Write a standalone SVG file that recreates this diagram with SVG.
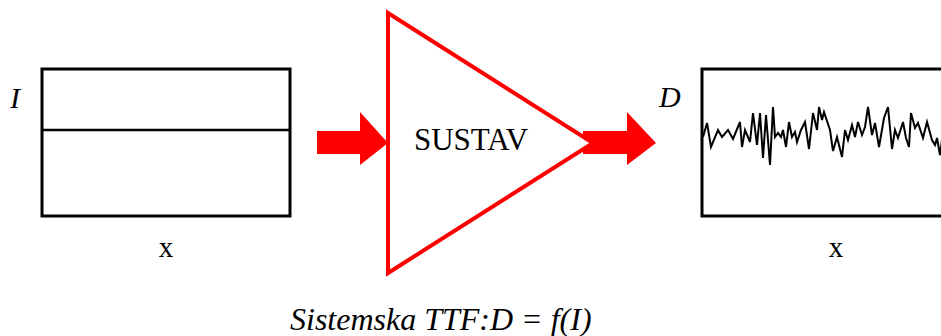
<svg xmlns="http://www.w3.org/2000/svg" width="941" height="336" viewBox="0 0 941 336">
<style>
.box{fill:#fff;stroke:#000;stroke-width:3}
.lbl{font-family:"Liberation Serif",serif;fill:#000}
.it{font-style:italic}
.tri{fill:#fff;stroke:#f00;stroke-width:4;stroke-linejoin:miter}
.arr{fill:#f00;stroke:none}
</style>
<rect width="941" height="336" fill="#fff"/>
<g id="input">
<rect class="box" x="42" y="69" width="248" height="147"/>
<line x1="42" y1="130" x2="290" y2="130" stroke="#000" stroke-width="2.5"/>
<text class="lbl it" x="10" y="108" font-size="30">I</text>
<text class="lbl" x="166" y="257" font-size="29" text-anchor="middle">x</text>
</g>
<g id="connectors">
<polygon class="arr" points="317,131 360,131 360,112 388,143 360,165 360,154 317,154"/>
<polygon class="arr" points="583,131 627,131 627,112 656,143 627,165 627,154 583,154"/>
</g>
<g id="system">
<polygon class="tri" points="388,13 593,143 388,273"/>
<text class="lbl" x="471" y="150" font-size="31" text-anchor="middle">SUSTAV</text>
</g>
<g id="output">
<rect class="box" x="702" y="69" width="250" height="147"/>
<text class="lbl it" x="659" y="107" font-size="30">D</text>
<text class="lbl" x="836" y="257" font-size="29" text-anchor="middle">x</text>
<polyline fill="none" stroke="#000" stroke-width="2" stroke-linejoin="miter" points="703,137 707,123 711,147 718,130 722,137 728,130 733,139 740,122 742,147 745,130 750,142 753,113 757,145 760,113 763,158 766,115 770,165 773,107 775,137 778,133 781,137 783,130 786,147 789,122 792,137 795,132 797,142 801,130 805,122 809,149 813,113 817,130 819,107 822,120 824,112 830,130 833,151 837,137 842,157 845,130 848,140 852,125 855,137 858,122 862,135 865,127 868,107 872,135 875,123 879,147 884,118 888,107 892,149 895,130 898,138 903,122 906,138 909,147 911,113 915,128 918,123 923,138 927,122 932,140 935,145 937,138 940,155 942,140"/>
</g>
<text class="lbl it" x="290" y="330" font-size="32">Sistemska TTF:D = f(I)</text>
</svg>
